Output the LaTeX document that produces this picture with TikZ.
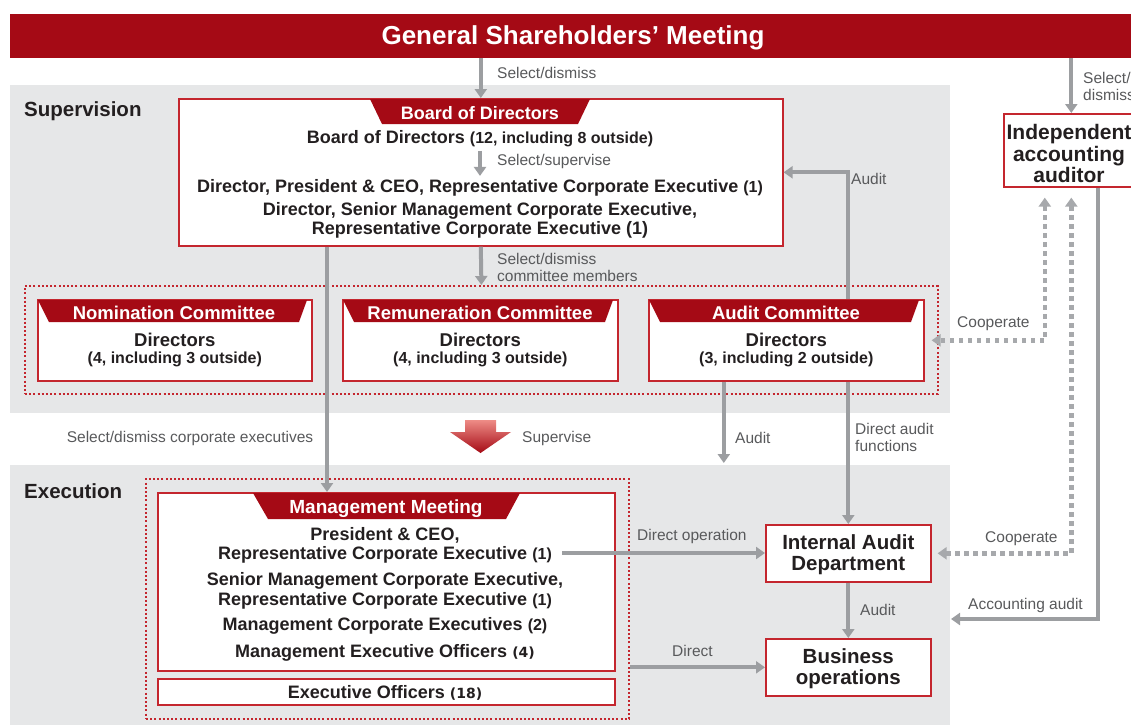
\documentclass[tikz,border=0pt]{standalone}
\usepackage{fontspec}
\setmainfont{Liberation Sans}
\newfontfamily\numfont{DejaVu Sans}
\usetikzlibrary{arrows.meta,calc}

\definecolor{corpred}{HTML}{A50A15}
\definecolor{edgered}{HTML}{C4262E}
\definecolor{panel}{HTML}{E6E7E8}
\definecolor{linegray}{HTML}{9C9EA1}
\definecolor{dotgray}{HTML}{A7A9AC}
\definecolor{labelgray}{HTML}{58595B}
\definecolor{ink}{HTML}{231F20}
\definecolor{lightred}{HTML}{EE8C86}

\newcommand{\myfs}[2]{\fontsize{#1}{#2}\selectfont}

\tikzset{
  box/.style={draw=edgered, line width=1.6pt, fill=white, inner sep=0pt, anchor=north west},
  grp/.style={draw=edgered, line width=1.8pt, dash pattern=on 2pt off 2.2pt, inner sep=0pt, anchor=north west},
  area/.style={fill=panel, inner sep=0pt, anchor=north west},
  txt/.style={text=ink, font=\bfseries, align=center, inner sep=0pt, yshift=-1.5pt},
  tabtxt/.style={text=white, font=\bfseries, inner sep=0pt, yshift=-1.5pt},
  lbl/.style={text=labelgray, font=\myfs{15.5}{17}, inner sep=0pt, align=left, anchor=west, yshift=-1pt},
  arr/.style={draw=linegray, line width=4pt, line join=miter, -{Triangle[width=12pt,length=9pt]}},
  coop/.style={draw=dotgray, line width=4.5pt, dash pattern=on 4.5pt off 4.5pt,
    {Triangle[width=12pt,length=9pt]}-{Triangle[width=12pt,length=9pt]}},
  tab/.style={fill=corpred},
}

\begin{document}
\begin{tikzpicture}[x=1pt,y=-1pt]
\useasboundingbox (0,0) rectangle (1131,724);
\clip (0,0) rectangle (1131,724);

% background panels
\node[area, minimum width=940, minimum height=328] (sup) at (10,85) {};
\node[area, minimum width=940, minimum height=260] (exe) at (10,465) {};
\node[text=ink, font=\bfseries\myfs{20.5}{22}, anchor=west, inner sep=0pt] (suptitle) at (24,111) {Supervision};
\node[text=ink, font=\bfseries\myfs{20.5}{22}, anchor=west, inner sep=0pt] (exetitle) at (24,491) {Execution};

% shareholders' meeting banner
\node[fill=corpred, minimum width=1135, minimum height=44, inner sep=0pt, anchor=north west] (gsm) at (10,14) {};
\node[text=white, font=\bfseries\myfs{26}{28}, inner sep=0pt] (gsmtxt) at (573,38) {General Shareholders’ Meeting};

% board of directors
\node[box, minimum width=604, minimum height=147] (bod) at (178,98) {};
\fill[tab] (370,99) -- (590,99) -- (578,124) -- (382,124) -- cycle;
\node[tabtxt, font=\bfseries\myfs{18}{20}] (bodtab) at (480,112) {Board of Directors};
\node[txt, font=\bfseries\myfs{18}{20}] (bod1) at (480,137) {Board of Directors {\myfs{16}{18}(12, including 8 outside)}};
\node[txt, font=\bfseries\myfs{18}{20}] (bod2) at (480,186) {Director, President \& CEO, Representative Corporate Executive {\myfs{16}{18}(1)}};
\node[txt, font=\bfseries\myfs{18}{19.5}] (bod3) at (480,219) {Director, Senior Management Corporate Executive,\\Representative Corporate Executive (1)};
\draw[arr, line width=3.5pt, shorten <=4pt, shorten >=3pt] (bod1.south) -- (bod1.south |- bod2.north);
\node[lbl] (l-selsup) at (497,160) {Select/supervise};

% committees
\node[grp, minimum width=913, minimum height=108] (comm) at (24,285) {};
\node[box, minimum width=274, minimum height=81] (nc) at (37,299) {};
\node[box, minimum width=275, minimum height=81] (rc) at (342,299) {};
\node[box, minimum width=275, minimum height=81] (ac) at (648,299) {};
\fill[tab] (38,300) -- (307,300) -- (299,322) -- (49,322) -- cycle;
\fill[tab] (343,300) -- (613,300) -- (605,322) -- (354,322) -- cycle;
\fill[tab] (649,300) -- (919,300) -- (911,322) -- (660,322) -- cycle;
\node[tabtxt, font=\bfseries\myfs{18.5}{20}] (nctab) at (174,311) {Nomination Committee};
\node[tabtxt, font=\bfseries\myfs{18.5}{20}] (rctab) at (480,311) {Remuneration Committee};
\node[tabtxt, font=\bfseries\myfs{18.5}{20}] (actab) at (786,311) {Audit Committee};
\foreach \c in {nc, rc, ac}{
  \node[txt, font=\bfseries\myfs{18.5}{20}] (\c-d) at ($(\c.north)+(0,39)$) {Directors};
}
\node[txt, font=\bfseries\myfs{16}{18}] (nc-n) at ($(nc.north)+(0,59)$) {(4, including 3 outside)};
\node[txt, font=\bfseries\myfs{16}{18}] (rc-n) at ($(rc.north)+(0,59)$) {(4, including 3 outside)};
\node[txt, font=\bfseries\myfs{16}{18}] (ac-n) at ($(ac.north)+(0,59)$) {(3, including 2 outside)};

% independent accounting auditor
\node[box, minimum width=135, minimum height=73] (aud) at (1003,113) {};
\node[txt, font=\bfseries\myfs{21}{21.5}] (audtxt) at (1069,152) {Independent\\accounting\\auditor};

% execution side
\node[grp, minimum width=483, minimum height=240] (exg) at (145,478) {};
\node[box, minimum width=457, minimum height=178] (mm) at (157,492) {};
\fill[tab] (253,493) -- (520,493) -- (506,519) -- (268,519) -- cycle;
\node[tabtxt, font=\bfseries\myfs{19}{20}] (mmtab) at (386,507) {Management Meeting};
\node[txt, font=\bfseries\myfs{18}{18.5}] (mm1) at (385,544) {President \& CEO,\\Representative Corporate Executive {\myfs{16}{18}(1)}};
\node[txt, font=\bfseries\myfs{18}{20}] (mm2) at (385,589) {Senior Management Corporate Executive,\\Representative Corporate Executive {\myfs{16}{18}(1)}};
\node[txt, font=\bfseries\myfs{18}{20}] (mm3) at (385,624) {Management Corporate Executives {\myfs{16}{18}(2)}};
\node[txt, font=\bfseries\myfs{18}{20}] (mm4) at (385,651) {Management Executive Officers {\numfont\myfs{14}{16}(4)}};
\node[box, minimum width=457, minimum height=26] (eo) at (157,678) {};
\node[txt, font=\bfseries\myfs{18}{20}] (eotxt) at (385,691) {Executive Officers {\numfont\myfs{14}{16}(18)}};

\node[box, minimum width=165, minimum height=57] (iad) at (765,524) {};
\node[txt, font=\bfseries\myfs{20.5}{21}] (iadtxt) at (iad.center) {Internal Audit\\Department};
\node[box, minimum width=165, minimum height=57] (bo) at (765,638) {};
\node[txt, font=\bfseries\myfs{20.5}{21}] (botxt) at (bo.center) {Business\\operations};

% free ends of connectors
\coordinate (selx) at (327,0);
\coordinate (ceo) at (562,553);
\coordinate (acc) at (951,619);

% connectors
\draw[arr] (gsm.south -| bod.north) -- (bod.north);
\node[lbl] (l-gsm) at (497,72) {Select/dismiss};

\draw[arr] (gsm.south -| aud.north) -- (aud.north);
\node[lbl] (l-aud) at (1083,85) {Select/\\dismiss};

\draw[arr] (bod.south) -- (comm.north);
\node[lbl] (l-comm) at (497,266) {Select/dismiss\\committee members};

\draw[arr] (bod.south -| selx) -- (mm.north -| selx);
\node[lbl, anchor=center] (l-selexec) at (190,437) {Select/dismiss corporate executives};

\draw[arr] (ac.north -| iad.north) |- (bod.east);
\node[lbl] (l-audit1) at (851,178) {Audit};

\draw[arr] ($(ac.south)+(-62.5,0)$) -- ($(ac.south |- exe.north)+(-62.5,-2)$);
\node[lbl] (l-audit2) at (735,437) {Audit};

\draw[arr] (ac.south -| iad.north) -- (iad.north);
\node[lbl] (l-direct-audit) at (855,436) {Direct audit\\functions};

% supervise arrow
\shade[top color=lightred, bottom color=corpred]
  (465,420) -- (496,420) -- (496,432) -- (511,432) -- (480.5,453) -- (450,432) -- (465,432) -- cycle;
\node[lbl] (l-supervise) at (522,437) {Supervise};

\draw[coop] ($(aud.south)+(-26.5,10)$) |- ($(ac.east)+(7,0)$);
\node[lbl] (l-coop1) at (957,323) {Cooperate};
\draw[coop] ($(aud.south)+(0,10)$) |- ($(iad.east)+(6,0)$);
\node[lbl] (l-coop2) at (985,538) {Cooperate};

\draw[arr] ($(aud.south)+(26.5,0)$) |- (acc);
\node[lbl] (l-acc) at (968,604) {Accounting audit};

\draw[arr] (ceo) -- (ceo -| iad.west);
\node[lbl] (l-dop) at (637,535) {Direct operation};

\draw[arr] (bo.west -| exg.east) -- (bo.west);
\node[lbl] (l-direct) at (672,650) {Direct};

\draw[arr] (iad.south) -- (bo.north);
\node[lbl] (l-audit3) at (860,609) {Audit};
\end{tikzpicture}
\end{document}
